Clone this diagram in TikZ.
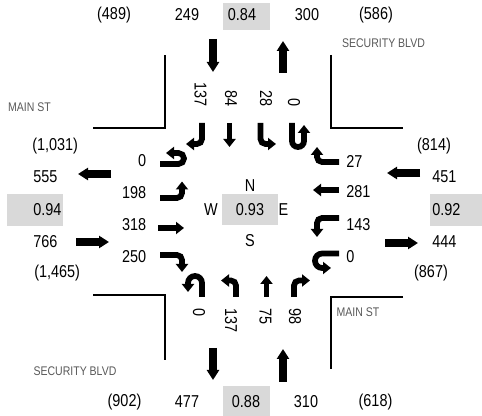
\documentclass[tikz,border=0pt]{standalone}
\usepackage{fontspec}
\setmainfont{Liberation Sans}[FakeStretch=0.84]
\usetikzlibrary{arrows.meta}
\definecolor{cellgray}{HTML}{D9D9D9}
\definecolor{streetgray}{HTML}{595959}

\begin{document}
\begin{tikzpicture}[x=0.75pt, y=-0.75pt,
    every node/.style={inner sep=0pt, font=\fontsize{12.9}{15}\selectfont},
    street/.style={font=\fontsize{9.4}{11}\selectfont, text=streetgray},
    vlab/.style={rotate=-90},
    lane/.style={line width=4.3pt, rounded corners=3.75pt, -{Triangle[width=9pt,length=6pt]}},
    flow/.style={line width=5.5pt, -{Triangle[width=9pt,length=7.5pt]}},
    curb/.style={line width=1.5pt}]
		\useasboundingbox (0,0) rectangle (482,416);
		\fill[cellgray] (223,3) rectangle (270,30);
		\fill[cellgray] (223,386) rectangle (270,416);
		\fill[cellgray] (7,194) rectangle (63,226);
		\fill[cellgray] (430,194) rectangle (482,226);
		\fill[cellgray] (222,194) rectangle (278,225);
		\node (N-pkin) at (114,15) {(489)};
		\node (N-in) at (187,15) {249};
		\node (N-phf) at (242,15) {0.84};
		\node (N-out) at (307,15) {300};
		\node (N-pkout) at (376,15) {(586)};
		\node (S-pkout) at (124.5,402) {(902)};
		\node (S-out) at (187,402) {477};
		\node (S-phf) at (246,402) {0.88};
		\node (S-in) at (306,402) {310};
		\node (S-pkin) at (375.5,402) {(618)};
		\node[anchor=west] (W-pkout) at (32,146) {(1,031)};
		\node[anchor=west] (W-out) at (33,177) {555};
		\node[anchor=west] (W-phf) at (33,210) {0.94};
		\node[anchor=west] (W-in) at (33,242) {766};
		\node[anchor=west] (W-pkin) at (34,273) {(1,465)};
		\node (E-pkin) at (434,146) {(814)};
		\node[anchor=west] (E-in) at (432,177) {451};
		\node[anchor=west] (E-phf) at (432,210) {0.92};
		\node[anchor=west] (E-out) at (432,242) {444};
		\node (E-pkout) at (431,273) {(867)};
		\node (phf) at (250,210) {0.93};
		\node (north) at (250,185.5) {N};
		\node (south) at (250,240.5) {S};
		\node (west) at (211,209.5) {W};
		\node (east) at (283.5,209.5) {E};
		\node[street] (main-w) at (29.5,107) {MAIN ST};
		\node[street] (main-e) at (358,312) {MAIN ST};
		\node[street] (sec-n) at (383.5,43) {SECURITY BLVD};
		\node[street] (sec-s) at (75,371) {SECURITY BLVD};
		\node[vlab, anchor=east] (N-r) at (200.5,107) {137};
		\node[vlab, anchor=east] (N-t) at (231,107) {84};
		\node[vlab, anchor=east] (N-l) at (266,107) {28};
		\node[vlab, anchor=east] (N-u) at (294,107) {0};
		\node[vlab, anchor=west] (S-u) at (199,308) {0};
		\node[vlab, anchor=west] (S-l) at (231,308) {137};
		\node[vlab, anchor=west] (S-t) at (265.5,308) {75};
		\node[vlab, anchor=west] (S-r) at (295,308) {98};
		\node[anchor=east] (W-u) at (146.5,161) {0};
		\node[anchor=east] (W-l) at (146.5,193) {198};
		\node[anchor=east] (W-t) at (146.5,225) {318};
		\node[anchor=east] (W-r) at (146.5,257) {250};
		\node[anchor=west] (E-r) at (346,161) {27};
		\node[anchor=west] (E-t) at (346,192) {281};
		\node[anchor=west] (E-l) at (346,225) {143};
		\node[anchor=west] (E-u) at (346,257) {0};
		\draw[curb] (93,128) -- (165,128) -- (165,55);
		\draw[curb] (331,55) -- (331,128) -- (403,128);
		\draw[curb] (93,295) -- (165,295) -- (165,360);
		\draw[curb] (403,297) -- (331,297) -- (331,369);
		\draw[flow] (213,39) -- (213,72);
		\draw[flow] (283,73) -- (283,41);
		\draw[flow] (213,348) -- (213,380);
		\draw[flow] (283,382) -- (283,349);
		\draw[flow] (111,174) -- (78,174);
		\draw[flow] (76,242) -- (109,242);
		\draw[flow] (420,173) -- (387,173);
		\draw[flow] (385,243) -- (418,243);
		\draw[lane] (202,123) -- (202,144) -- (186,144);
		\draw[lane] (229.5,123) -- (229.5,147);
		\draw[lane] (260.5,123) -- (260.5,144) -- (276,144);
		\draw[lane, rounded corners=4.5pt] (292,123) -- (292,147) -- (304,147) -- (304,125);
		\draw[lane, rounded corners=5.25pt] (202,297) -- (202,276) -- (188,276) -- (188,292);
		\draw[lane] (236,297) -- (236,280.5) -- (221,280.5);
		\draw[lane] (266.5,297) -- (266.5,276);
		\draw[lane] (294,297) -- (294,280.5) -- (310,280.5);
		\draw[lane, rounded corners=4.1pt] (160,164) -- (184,164) -- (184,153) -- (166,153);
		\draw[lane] (160,198) -- (182,198) -- (182,181.5);
		\draw[lane] (158,228) -- (184,228);
		\draw[lane] (160,255) -- (182,255) -- (182,272);
		\draw[lane] (339,162) -- (317,162) -- (317,147);
		\draw[lane] (339,190) -- (313,190);
		\draw[lane] (339,218) -- (317,218) -- (317,237);
		\draw[lane, rounded corners=5.4pt] (339,253.5) -- (315,253.5) -- (315,268) -- (331,268);
	\end{tikzpicture}
\end{document}
